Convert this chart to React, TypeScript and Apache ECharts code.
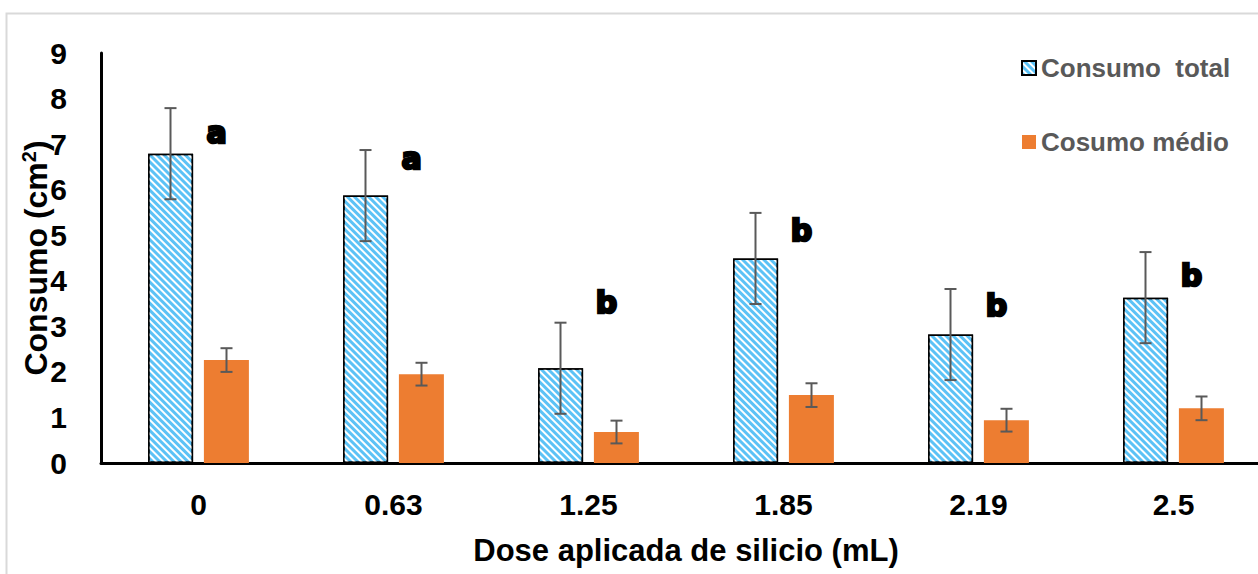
import React, { useEffect, useRef } from "react";
import * as echarts from "echarts";

const categories = ["0", "0.63", "1.25", "1.85", "2.19", "2.5"];
const totalValues = [6.79, 5.87, 2.08, 4.49, 2.82, 3.63];
const totalErrors = [1.0, 1.0, 1.0, 1.0, 1.0, 1.0];
const mediaValues = [2.26, 1.95, 0.68, 1.49, 0.94, 1.2];
const mediaErrors = [0.26, 0.25, 0.25, 0.26, 0.25, 0.26];
const letters = ["a", "a", "b", "b", "b", "b"];
const letterValues = [7.25, 6.68, 3.53, 5.1, 3.46, 4.12];
const yTicks = [0, 1, 2, 3, 4, 5, 6, 7, 8, 9];

const FONT = "'Liberation Sans', Arial, sans-serif";
const BAR_W = 45;
const OFFSET = 28;

function errorSeries(name: string, values: number[], errors: number[], dx: number) {
  return {
    type: "custom",
    name,
    silent: true,
    z: 10,
    data: values.map((v, i) => [i, v - errors[i], v + errors[i]]),
    renderItem: (params: any, api: any) => {
      const lo = api.coord([api.value(0), api.value(1)]);
      const hi = api.coord([api.value(0), api.value(2)]);
      const x = lo[0] + dx;
      const cap = 6;
      const style = { stroke: "#595959", lineWidth: 2 };
      return {
        type: "group",
        children: [
          { type: "line", shape: { x1: x, y1: lo[1], x2: x, y2: hi[1] }, style },
          { type: "line", shape: { x1: x - cap, y1: lo[1], x2: x + cap, y2: lo[1] }, style },
          { type: "line", shape: { x1: x - cap, y1: hi[1], x2: x + cap, y2: hi[1] }, style },
        ],
      };
    },
  };
}

export default function App() {
  const ref = useRef<HTMLDivElement>(null);
  useEffect(() => {
    if (!ref.current) return;
    const chart = echarts.init(ref.current, null, { renderer: "svg" });
    chart.setOption({
      animation: false,
      backgroundColor: "#fff",
      graphic: [
        {
          type: "rect",
          shape: { x: 6.5, y: 13.5, width: 1300, height: 620 },
          style: { fill: "none", stroke: "#d9d9d9", lineWidth: 2 },
          silent: true,
          z: -10,
        },
      ],
      legend: {
        orient: "vertical",
        left: 1016,
        top: 50,
        itemWidth: 14,
        itemHeight: 14,
        itemGap: 48,
        textStyle: { fontFamily: FONT, fontWeight: "bold", fontSize: 26, color: "#595959" },
        data: [
          { name: "Consumo  total", icon: "rect" },
          { name: "Cosumo médio", icon: "rect" },
        ],
      },
      grid: {
        left: 101,
        top: 53,
        bottom: 111,
        width: 1170,
        containLabel: false,
        outerBoundsMode: "none",
      },
      xAxis: {
        type: "category",
        data: categories,
        name: "Dose aplicada de silicio (mL)",
        nameLocation: "middle",
        nameGap: 72,
        nameTextStyle: { fontFamily: FONT, fontWeight: "bold", fontSize: 31, color: "#000" },
        axisLine: { lineStyle: { color: "#000", width: 3 } },
        axisTick: { show: false },
        axisLabel: { fontFamily: FONT, fontWeight: "bold", fontSize: 30, color: "#000", margin: 26 },
      },
      yAxis: {
        type: "value",
        min: 0,
        max: 9,
        interval: 1,
        name: "{a|Consumo (cm}{s|2}{a|)}",
        nameLocation: "middle",
        nameGap: 48,
        nameMoveOverlap: false,
        nameRotate: 90,
        nameTextStyle: {
          rich: {
            a: { fontFamily: FONT, fontWeight: "bold", fontSize: 32, color: "#000" },
            s: { fontFamily: FONT, fontWeight: "bold", fontSize: 20, color: "#000", verticalAlign: "top", padding: [0, 0, 14, 0] },
          },
        },
        axisLine: { show: true, lineStyle: { color: "#000", width: 3 } },
        axisTick: { show: false },
        splitLine: { show: false },
        axisLabel: {
          fontFamily: FONT,
          fontWeight: "bold",
          fontSize: 30,
          color: "#000",
          margin: 34,
          formatter: (v: number) => (yTicks.includes(v) ? String(v) : ""),
        },
      },
      series: [
        {
          type: "bar",
          name: "Consumo  total",
          data: totalValues,
          barWidth: BAR_W,
          barGap: "24%",
          itemStyle: {
            color: "#5cc2f6",
            borderColor: "#000",
            borderWidth: 1.5,
            decal: {
              symbol: "rect",
              symbolSize: 1,
              dashArrayX: [[1, 0]],
              dashArrayY: [2, 3],
              rotation: Math.PI / 4,
              color: "#ffffff",
            },
          },
        },
        {
          type: "bar",
          name: "Cosumo médio",
          data: mediaValues,
          barWidth: BAR_W,
          itemStyle: { color: "#ed7d31" },
        },
        errorSeries("errTotal", totalValues, totalErrors, -OFFSET),
        errorSeries("errMedia", mediaValues, mediaErrors, OFFSET),
        {
          type: "custom",
          name: "letters",
          silent: true,
          z: 11,
          data: letterValues.map((v, i) => [i, v]),
          renderItem: (params: any, api: any) => {
            const p = api.coord([api.value(0), api.value(1)]);
            return {
              type: "text",
              x: p[0] + 18,
              y: p[1],
              style: {
                text: letters[params.dataIndex],
                fontFamily: "'DejaVu Sans', sans-serif",
                fontWeight: 900,
                fontSize: 30,
                fill: "#000",
                stroke: "#000",
                lineWidth: 2.5,
                align: "center",
                verticalAlign: "middle",
              },
            };
          },
        },
      ],
    });
    return () => chart.dispose();
  }, []);
  return (
    <div
      ref={ref}
      style={{ position: "fixed", left: 0, top: 0, width: 1258, height: 574 }}
    />
  );
}
